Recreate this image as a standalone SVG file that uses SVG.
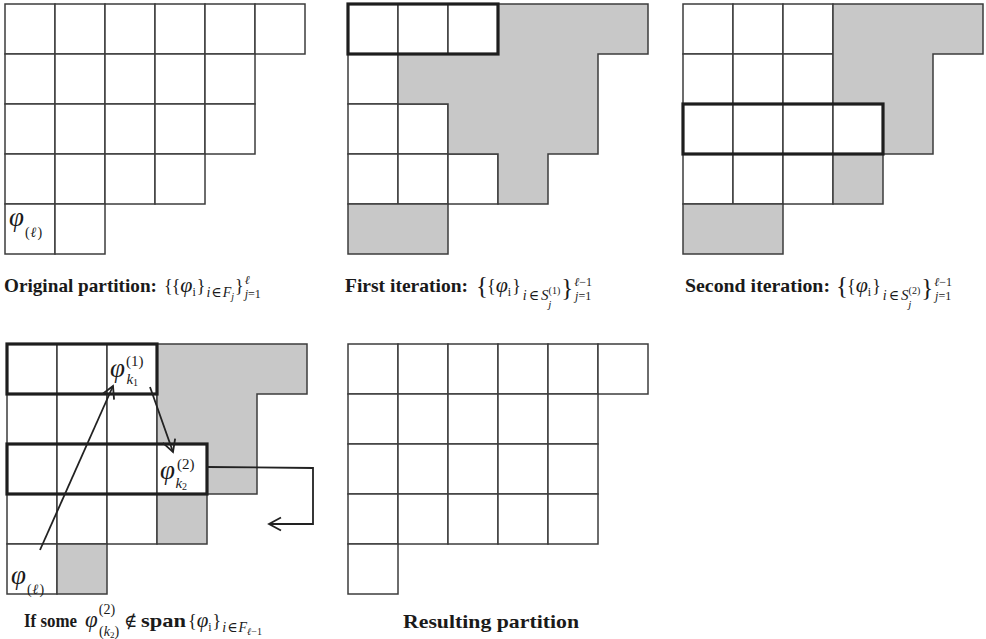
<svg xmlns="http://www.w3.org/2000/svg" width="986" height="639" viewBox="0 0 986 639">
<style>
.c{fill:#fff;stroke:#3c3c3c;stroke-width:1.5}
.g{fill:#c8c8c8;stroke:#3c3c3c;stroke-width:1.5}
.b{fill:none;stroke:#1e1e1e;stroke-width:3.2}
.t{font-family:"Liberation Serif","DejaVu Serif",serif;fill:#1a1a1a}
.cap{font-weight:bold;font-size:19px}
.it{font-style:italic}
.conn{fill:none;stroke:#222;stroke-width:1.8}
</style>
<defs>
<marker id="open" markerWidth="16" markerHeight="16" refX="13" refY="8" orient="auto" markerUnits="userSpaceOnUse">
<path d="M1,1.5 L13,8 L1,14.5" fill="none" stroke="#222" stroke-width="1.8"/>
</marker>
</defs>
<rect width="986" height="639" fill="#fff"/>

<!-- Panel 1: original partition -->
<g id="panel-original">
<rect class="c" x="5" y="4" width="50" height="50"/><rect class="c" x="55" y="4" width="50" height="50"/><rect class="c" x="105" y="4" width="50" height="50"/><rect class="c" x="155" y="4" width="50" height="50"/><rect class="c" x="205" y="4" width="50" height="50"/><rect class="c" x="255" y="4" width="50" height="50"/>
<rect class="c" x="5" y="54" width="50" height="50"/><rect class="c" x="55" y="54" width="50" height="50"/><rect class="c" x="105" y="54" width="50" height="50"/><rect class="c" x="155" y="54" width="50" height="50"/><rect class="c" x="205" y="54" width="50" height="50"/>
<rect class="c" x="5" y="104" width="50" height="50"/><rect class="c" x="55" y="104" width="50" height="50"/><rect class="c" x="105" y="104" width="50" height="50"/><rect class="c" x="155" y="104" width="50" height="50"/><rect class="c" x="205" y="104" width="50" height="50"/>
<rect class="c" x="5" y="154" width="50" height="50"/><rect class="c" x="55" y="154" width="50" height="50"/><rect class="c" x="105" y="154" width="50" height="50"/><rect class="c" x="155" y="154" width="50" height="50"/>
<rect class="c" x="5" y="204" width="50" height="50"/><rect class="c" x="55" y="204" width="50" height="50"/>
<text class="t" x="9" y="226" font-size="27"><tspan class="it">φ</tspan><tspan font-size="14" dy="11" dx="1" letter-spacing="1">(<tspan class="it">ℓ</tspan>)</tspan></text>
</g>

<!-- Panel 2: first iteration -->
<g id="panel-first">
<rect class="c" x="348" y="4" width="50" height="50"/><rect class="c" x="398" y="4" width="50" height="50"/><rect class="c" x="448" y="4" width="50" height="50"/>
<rect class="c" x="348" y="54" width="50" height="50"/>
<rect class="c" x="348" y="104" width="50" height="50"/><rect class="c" x="398" y="104" width="50" height="50"/>
<rect class="c" x="348" y="154" width="50" height="50"/><rect class="c" x="398" y="154" width="50" height="50"/><rect class="c" x="448" y="154" width="50" height="50"/>
<polygon class="g" points="498,4 648,4 648,54 598,54 598,154 548,154 548,204 498,204 498,154 448,154 448,104 398,104 398,54 498,54"/>
<rect class="g" x="348" y="204" width="100" height="50"/>
<rect class="b" x="348" y="4" width="150" height="50"/>
</g>

<!-- Panel 3: second iteration -->
<g id="panel-second">
<rect class="c" x="683" y="4" width="50" height="50"/><rect class="c" x="733" y="4" width="50" height="50"/><rect class="c" x="783" y="4" width="50" height="50"/>
<rect class="c" x="683" y="54" width="50" height="50"/><rect class="c" x="733" y="54" width="50" height="50"/><rect class="c" x="783" y="54" width="50" height="50"/>
<rect class="c" x="683" y="104" width="50" height="50"/><rect class="c" x="733" y="104" width="50" height="50"/><rect class="c" x="783" y="104" width="50" height="50"/><rect class="c" x="833" y="104" width="50" height="50"/>
<rect class="c" x="683" y="154" width="50" height="50"/><rect class="c" x="733" y="154" width="50" height="50"/><rect class="c" x="783" y="154" width="50" height="50"/>
<polygon class="g" points="833,4 983,4 983,54 933,54 933,154 883,154 883,104 833,104"/>
<rect class="g" x="833" y="154" width="50" height="50"/>
<rect class="g" x="683" y="204" width="100" height="50"/>
<rect class="b" x="683" y="104" width="200" height="50"/>
</g>

<!-- Panel 4: if some -->
<g id="panel-some">
<rect class="c" x="7" y="344" width="50" height="50"/><rect class="c" x="57" y="344" width="50" height="50"/><rect class="c" x="107" y="344" width="50" height="50"/>
<rect class="c" x="7" y="394" width="50" height="50"/><rect class="c" x="57" y="394" width="50" height="50"/><rect class="c" x="107" y="394" width="50" height="50"/>
<rect class="c" x="7" y="444" width="50" height="50"/><rect class="c" x="57" y="444" width="50" height="50"/><rect class="c" x="107" y="444" width="50" height="50"/><rect class="c" x="157" y="444" width="50" height="50"/>
<rect class="c" x="7" y="494" width="50" height="50"/><rect class="c" x="57" y="494" width="50" height="50"/><rect class="c" x="107" y="494" width="50" height="50"/>
<rect class="c" x="7" y="544" width="50" height="50"/>
<polygon class="g" points="157,344 307,344 307,394 257,394 257,494 207,494 207,444 157,444"/>
<rect class="g" x="157" y="494" width="50" height="50"/>
<rect class="g" x="57" y="544" width="50" height="50"/>
<rect class="b" x="7" y="344" width="150" height="50"/>
<rect class="b" x="7" y="444" width="200" height="50"/>
<text class="t" x="110" y="377" font-size="27"><tspan class="it">φ</tspan><tspan font-size="15" dy="-11" dx="1">(1)</tspan><tspan class="it" font-size="15" dx="-17" dy="18">k</tspan><tspan font-size="10" dy="2">1</tspan></text>
<text class="t" x="160" y="479" font-size="27"><tspan class="it">φ</tspan><tspan font-size="15" dy="-10" dx="2">(2)</tspan><tspan class="it" font-size="15" dx="-19" dy="19">k</tspan><tspan font-size="10" dy="2">2</tspan></text>
<text class="t" x="11" y="584" font-size="27"><tspan class="it">φ</tspan><tspan font-size="14" dy="10" dx="1" letter-spacing="1">(<tspan class="it">ℓ</tspan>)</tspan></text>
</g>

<!-- Panel 5: resulting partition -->
<g id="panel-result">
<rect class="c" x="348" y="344" width="50" height="50"/><rect class="c" x="398" y="344" width="50" height="50"/><rect class="c" x="448" y="344" width="50" height="50"/><rect class="c" x="498" y="344" width="50" height="50"/><rect class="c" x="548" y="344" width="50" height="50"/><rect class="c" x="598" y="344" width="50" height="50"/>
<rect class="c" x="348" y="394" width="50" height="50"/><rect class="c" x="398" y="394" width="50" height="50"/><rect class="c" x="448" y="394" width="50" height="50"/><rect class="c" x="498" y="394" width="50" height="50"/><rect class="c" x="548" y="394" width="50" height="50"/>
<rect class="c" x="348" y="444" width="50" height="50"/><rect class="c" x="398" y="444" width="50" height="50"/><rect class="c" x="448" y="444" width="50" height="50"/><rect class="c" x="498" y="444" width="50" height="50"/><rect class="c" x="548" y="444" width="50" height="50"/>
<rect class="c" x="348" y="494" width="50" height="50"/><rect class="c" x="398" y="494" width="50" height="50"/><rect class="c" x="448" y="494" width="50" height="50"/><rect class="c" x="498" y="494" width="50" height="50"/><rect class="c" x="548" y="494" width="50" height="50"/>
<rect class="c" x="348" y="544" width="50" height="50"/>
</g>

<!-- Connectors -->
<g id="connectors">
<line class="conn" x1="40" y1="550" x2="113" y2="386" marker-end="url(#open)"/>
<line class="conn" x1="150" y1="387" x2="173" y2="452" marker-end="url(#open)"/>
<polyline class="conn" points="207,467 313,468 313,524 269,524" marker-end="url(#open)"/>
</g>

<!-- Captions -->
<g id="captions">
<text class="t cap" x="4" y="292" textLength="153" lengthAdjust="spacingAndGlyphs">Original partition:</text>
<text class="t" x="164" y="292" font-size="18">{<tspan dx="-1">{</tspan><tspan class="it" font-size="22">φ</tspan><tspan font-size="12" dy="4">i</tspan><tspan dy="-4" dx="1">}</tspan><tspan class="it" font-size="14" dy="5" dx="1">i</tspan><tspan font-size="14" dx="1">∈</tspan><tspan class="it" font-size="14" dx="1">F</tspan><tspan class="it" font-size="10" dy="3">j</tspan><tspan dy="-8" dx="1">}</tspan><tspan class="it" font-size="12" dy="-8" dx="1">ℓ</tspan><tspan class="it" font-size="12" dy="14" dx="-5">j</tspan><tspan font-size="12">=1</tspan></text>

<text class="t cap" x="345" y="292" textLength="123" lengthAdjust="spacingAndGlyphs">First iteration:</text>
<text class="t" x="476" y="292" font-size="18"><tspan font-size="25" dy="2">{</tspan><tspan dy="-2" dx="-1">{</tspan><tspan class="it" font-size="22">φ</tspan><tspan font-size="12" dy="4">i</tspan><tspan dy="-4" dx="1">}</tspan><tspan class="it" font-size="14" dy="8" dx="2">i</tspan><tspan font-size="14" dx="2">∈</tspan><tspan class="it" font-size="15" dx="2">S</tspan><tspan font-size="10" dy="-6">(1)</tspan><tspan class="it" font-size="11" dx="-12" dy="14">j</tspan><tspan font-size="25" dx="10" dy="-12">}</tspan><tspan font-size="12" dy="-10" dx="1"><tspan class="it">ℓ</tspan>−1</tspan><tspan class="it" font-size="12" dy="14" dx="-17">j</tspan><tspan font-size="12">=1</tspan></text>

<text class="t cap" x="685" y="292" textLength="145" lengthAdjust="spacingAndGlyphs">Second iteration:</text>
<text class="t" x="836" y="292" font-size="18"><tspan font-size="25" dy="2">{</tspan><tspan dy="-2" dx="-1">{</tspan><tspan class="it" font-size="22">φ</tspan><tspan font-size="12" dy="4">i</tspan><tspan dy="-4" dx="1">}</tspan><tspan class="it" font-size="14" dy="8" dx="2">i</tspan><tspan font-size="14" dx="2">∈</tspan><tspan class="it" font-size="15" dx="2">S</tspan><tspan font-size="10" dy="-6">(2)</tspan><tspan class="it" font-size="11" dx="-12" dy="14">j</tspan><tspan font-size="25" dx="10" dy="-12">}</tspan><tspan font-size="12" dy="-10" dx="1"><tspan class="it">ℓ</tspan>−1</tspan><tspan class="it" font-size="12" dy="14" dx="-17">j</tspan><tspan font-size="12">=1</tspan></text>

<text class="t cap" x="24" y="627" font-size="18" textLength="53" lengthAdjust="spacingAndGlyphs">If some</text>
<text class="t" x="85" y="627" font-size="18"><tspan class="it" font-size="23">φ</tspan><tspan font-size="14" dy="-13" dx="1">(2)</tspan><tspan font-size="14" dx="-16" dy="22">(<tspan class="it">k</tspan><tspan font-size="9" dy="2">2</tspan><tspan dy="-2">)</tspan></tspan></text>
<text class="t" x="124" y="627" font-size="18">∉</text>
<text class="t cap" x="141" y="627" textLength="45" lengthAdjust="spacingAndGlyphs">span</text>
<text class="t" x="188" y="627" font-size="18">{<tspan class="it" font-size="21">φ</tspan><tspan font-size="12" dy="4">i</tspan><tspan dy="-4" dx="1">}</tspan><tspan class="it" font-size="14" dy="5" dx="1">i</tspan><tspan font-size="14" dx="1">∈</tspan><tspan class="it" font-size="14" dx="1">F</tspan><tspan font-size="10" dy="3"><tspan class="it">ℓ</tspan>−1</tspan></text>

<text class="t cap" x="403" y="628" font-size="20" textLength="176" lengthAdjust="spacingAndGlyphs">Resulting partition</text>
</g>
</svg>
